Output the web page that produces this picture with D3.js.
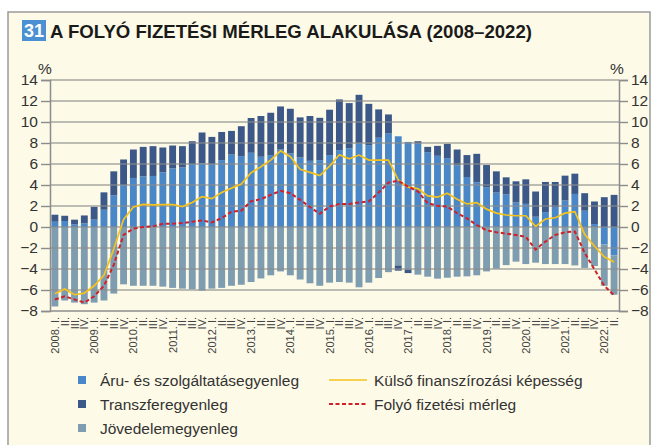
<!DOCTYPE html>
<html>
<head>
<meta charset="utf-8">
<script src="https://cdn.jsdelivr.net/npm/d3@7"></script>
<style>
  body { margin: 0; background: #fff; }
  text { font-family: "Liberation Sans", Arial, sans-serif; }
</style>
</head>
<body>
<svg id="chart" width="657" height="445"></svg>
<script>
// quarters 2008 I. - 2022 II.
var years = [2008, 2009, 2010, 2011, 2012, 2013, 2014, 2015, 2016, 2017, 2018, 2019, 2020, 2021, 2022];
var quarterNames = ["I.", "II.", "III.", "IV."];

// % of GDP
var goods = [0.5, 0.57, 0.25, 0.35, 0.7, 1.64, 3.0, 3.97, 4.67, 4.83, 4.86, 5.2, 5.58, 5.68, 6.0, 6.06,
  5.96, 6.37, 6.9, 6.75, 7.07, 6.69, 6.85, 7.38, 7.0, 6.62, 6.3, 6.37, 6.85, 7.32, 7.5, 7.95,
  7.8, 8.5, 8.9, 8.64, 8.1, 7.95, 7.13, 6.78, 6.56, 5.87, 4.76, 4.26, 3.79, 3.28, 3.12, 2.33,
  2.2, 0.98, 1.42, 1.9, 2.52, 3.15, 1.55, 0.28, -1.67, -2.7];
var transfer = [0.67, 0.5, 0.45, 0.75, 1.22, 1.66, 2.3, 2.46, 2.71, 2.8, 2.84, 2.37, 2.18, 2.02, 2.17, 2.94,
  2.62, 2.68, 2.25, 2.85, 3.31, 3.88, 4.03, 4.1, 4.26, 3.82, 4.27, 4.03, 4.32, 4.83, 4.3, 4.64,
  3.93, 2.7, 1.82, -0.5, -0.35, 0.22, 0.5, 0.95, 1.36, 1.51, 2.09, 2.71, 2.11, 2.02, 1.61, 2.02,
  2.34, 2.4, 2.87, 2.39, 2.37, 1.93, 1.67, 2.15, 2.84, 3.06];
var income = [-7.57, -7.0, -7.2, -7.35, -7.2, -7.0, -6.34, -5.46, -5.6, -5.6, -5.6, -5.68, -5.8, -5.87, -5.93, -6.06,
  -5.87, -5.8, -5.6, -5.5, -5.24, -4.9, -4.6, -4.23, -4.6, -5.0, -5.36, -5.6, -5.3, -5.24, -5.3, -5.74,
  -5.3, -4.86, -4.3, -3.66, -4.04, -4.54, -4.73, -4.92, -4.83, -4.73, -4.7, -4.6, -4.23, -3.97, -3.63, -3.3,
  -3.53, -3.4, -3.53, -3.53, -3.53, -3.66, -3.9, -3.72, -3.93, -3.75];
var financing = [-6.35, -5.9, -6.45, -6.3, -5.6, -4.6, -2.1, 0.72, 1.9, 2.15, 2.1, 2.14, 2.14, 1.95, 2.33, 2.9,
  2.7, 3.28, 3.7, 4.1, 5.17, 5.74, 6.37, 7.26, 6.69, 5.5, 5.2, 4.89, 5.8, 6.88, 6.5, 6.85,
  6.37, 6.37, 6.37, 4.48, 3.79, 3.66, 2.97, 2.84, 3.22, 2.65, 2.2, 2.33, 1.7, 1.32, 1.14, 1.07,
  1.07, 0.06, 0.76, 0.88, 1.32, 1.45, -0.7, -1.83, -2.84, -3.34];
var currentAccount = [-6.9, -6.6, -6.9, -7.2, -6.6, -5.6, -3.6, -0.75, -0.15, 0.0, 0.06, 0.3, 0.3, 0.38, 0.5, 0.63,
  0.44, 0.85, 1.45, 1.55, 2.46, 2.65, 3.06, 3.44, 3.22, 2.58, 1.9, 1.26, 1.95, 2.2, 2.2, 2.33,
  2.43, 3.28, 4.23, 4.4, 3.85, 3.38, 2.27, 2.02, 1.95, 1.32, 0.82, 0.19, -0.32, -0.5, -0.63, -0.76,
  -0.95, -2.14, -1.39, -0.76, -0.5, -0.44, -2.46, -4.04, -5.6, -6.5];
var yTicks = [-8, -6, -4, -2, 0, 2, 4, 6, 8, 10, 12, 14];

var barSeries = [
  { key: "goods", name: "Áru- és szolgáltatásegyenleg", color: "#4a87c9" },
  { key: "income", name: "Jövedelemegyenleg", color: "#7f9db1" },
  { key: "transfer", name: "Transzferegyenleg", color: "#3c5889" }
];

var periods = [];
years.forEach(function (yr) {
  quarterNames.forEach(function (q) { periods.push({ year: yr, q: q }); });
});
periods = periods.slice(0, goods.length);

var table = periods.map(function (p, i) {
  return { id: i, label: (p.q === "I." ? p.year + ". " : "") + p.q,
           goods: goods[i], transfer: transfer[i], income: income[i] };
});

var svg = d3.select("#chart");
var plotLeft = 50, plotRight = 619, plotTop = 80, plotBottom = 311;

// frame
svg.append("rect").attr("x", 8).attr("y", 12).attr("width", 642).attr("height", 445)
  .attr("fill", "#fdfae7").attr("stroke", "#9a9a9a").attr("stroke-width", 1.5);

// title
svg.append("rect").attr("x", 22).attr("y", 20).attr("width", 24).attr("height", 21).attr("fill", "#4a90d2");
svg.append("text").attr("x", 34).attr("y", 37).attr("text-anchor", "middle")
  .attr("font-size", 18).attr("font-weight", "bold").attr("fill", "#fff").text("31");
svg.append("text").attr("x", 50).attr("y", 37.5)
  .attr("font-size", 18).attr("font-weight", "bold").attr("fill", "#1a1a1a")
  .attr("textLength", 482).attr("lengthAdjust", "spacingAndGlyphs")
  .text("A FOLYÓ FIZETÉSI MÉRLEG ALAKULÁSA (2008–2022)");

var x = d3.scaleBand().domain(table.map(function (d) { return d.id; }))
  .range([plotLeft, plotRight]).paddingInner(0.3).paddingOuter(0.15);
var y = d3.scaleLinear().domain([-8, 14]).range([plotBottom, plotTop]);

var stack = d3.stack().keys(barSeries.map(function (s) { return s.key; }))
  .offset(d3.stackOffsetDiverging);
var layers = stack(table);

svg.append("g").selectAll("g")
  .data(layers)
  .enter().append("g")
  .attr("fill", function (d, i) { return barSeries[i].color; })
  .selectAll("rect")
  .data(function (d) { return d; })
  .enter().append("rect")
  .attr("x", function (d) { return x(d.data.id); })
  .attr("width", x.bandwidth())
  .attr("y", function (d) { return y(Math.max(d[0], d[1])); })
  .attr("height", function (d) { return Math.abs(y(d[0]) - y(d[1])); });

// grid lines over bars
svg.append("g").selectAll("line")
  .data(yTicks.filter(function (t) { return t > -8; }))
  .enter().append("line")
  .attr("x1", plotLeft).attr("x2", plotRight)
  .attr("y1", function (d) { return y(d); }).attr("y2", function (d) { return y(d); })
  .attr("stroke", "#8c8c8c").attr("stroke-opacity", 0.75).attr("stroke-width", 1.4);

// axes
var axisLeft = d3.axisLeft(y).tickValues(yTicks).tickSize(9).tickPadding(3);
var axisRight = d3.axisRight(y).tickValues(yTicks).tickSize(9).tickPadding(3);
[svg.append("g").attr("transform", "translate(" + plotLeft + ",0)").call(axisLeft),
 svg.append("g").attr("transform", "translate(" + plotRight + ",0)").call(axisRight)].forEach(function (g) {
  g.select(".domain").attr("stroke", "#8c8c8c").attr("stroke-width", 1.5);
  g.selectAll(".tick line").attr("stroke", "#8c8c8c").attr("stroke-width", 1.4);
  g.selectAll(".tick text").attr("font-size", 15.5).attr("fill", "#333")
    .attr("font-family", "'Liberation Sans', Arial, sans-serif");
});
svg.append("line").attr("x1", plotLeft).attr("x2", plotRight).attr("y1", plotBottom).attr("y2", plotBottom)
  .attr("stroke", "#8c8c8c").attr("stroke-width", 1.5);

svg.append("text").attr("x", 45).attr("y", 74).attr("text-anchor", "middle")
  .attr("font-size", 15.5).attr("fill", "#333").text("%");
svg.append("text").attr("x", 617).attr("y", 74).attr("text-anchor", "middle")
  .attr("font-size", 15.5).attr("fill", "#333").text("%");

// x labels
svg.append("g").selectAll("text")
  .data(table)
  .enter().append("text")
  .attr("transform", function (d) {
    return "translate(" + (x(d.id) + x.bandwidth() / 2 + 4) + "," + (plotBottom + 6) + ") rotate(-90)";
  })
  .attr("text-anchor", "end")
  .attr("font-size", 11).attr("fill", "#444")
  .text(function (d) { return d.label; });

// lines
var line = function (vals) {
  return d3.line()
    .x(function (d, i) { return x(i) + x.bandwidth() / 2; })
    .y(function (d) { return y(d); })(vals);
};
svg.append("path").attr("d", line(financing)).attr("fill", "none")
  .attr("stroke", "#f6c21c").attr("stroke-width", 1.7);
svg.append("path").attr("d", line(currentAccount)).attr("fill", "none")
  .attr("stroke", "#d0202a").attr("stroke-width", 2).attr("stroke-dasharray", "4,2.5");

// legend
var legendBars = [barSeries[0], barSeries[2], barSeries[1]];
var lg = svg.append("g").selectAll("g").data(legendBars).enter().append("g")
  .attr("transform", function (d, i) { return "translate(78," + (376 + i * 24) + ")"; });
lg.append("rect").attr("width", 8).attr("height", 8).attr("fill", function (d) { return d.color; });
lg.append("text").attr("x", 22).attr("y", 10).attr("font-size", 15.5).attr("fill", "#333")
  .text(function (d) { return d.name; });

var legendLines = [
  { name: "Külső finanszírozási képesség", color: "#f6c21c", dash: null, w: 1.7 },
  { name: "Folyó fizetési mérleg", color: "#d0202a", dash: "4,2.5", w: 2 }
];
var ll = svg.append("g").selectAll("g").data(legendLines).enter().append("g")
  .attr("transform", function (d, i) { return "translate(329," + (380 + i * 24) + ")"; });
ll.append("line").attr("x1", 0).attr("x2", 38)
  .attr("stroke", function (d) { return d.color; })
  .attr("stroke-width", function (d) { return d.w; })
  .attr("stroke-dasharray", function (d) { return d.dash; });
ll.append("text").attr("x", 45).attr("y", 6).attr("font-size", 15.5).attr("fill", "#333")
  .text(function (d) { return d.name; });
</script>
</body>
</html>
